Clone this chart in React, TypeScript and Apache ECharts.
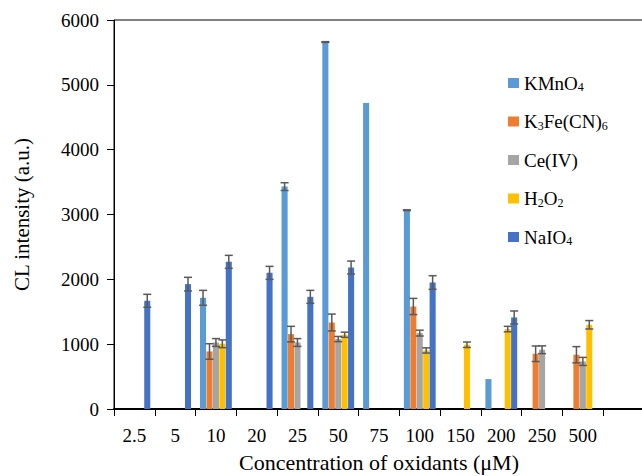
import React, { useEffect, useRef } from "react";
import * as echarts from "echarts";

const categories = ["2.5", "5", "10", "20", "25", "50", "75", "100", "150", "200", "250", "500", ""];
const seriesNames = ["KMnO4", "K3Fe(CN)6", "Ce(IV)", "H2O2", "NaIO4"];
const legendLabels = ["KMnO{s|4}", "K{s|3}Fe(CN){s|6}", "Ce(IV)", "H{s|2}O{s|2}", "NaIO{s|4}"];
const colors = ["#5B9BD5", "#ED7D31", "#A5A5A5", "#FFC000", "#4472C4"];

const kmno4 = [null, null, 1715, null, 3430, 5660, 4720, 3066, null, 462, null, null, null];
const k3fe = [null, null, 887, null, 1155, 1334, null, 1581, null, null, 852, 837, null];
const ce = [null, null, 1026, null, 1026, 1079, null, 1171, null, null, 914, 734, null];
const h2o2 = [null, null, 1006, null, null, 1145, null, 903, 991, 1233, null, 1299, null];
const naio4 = [1669, 1926, 2270, 2100, 1730, 2182, null, 1951, null, 1412, null, null, null];

const kmno4Err = [null, null, 115, null, 60, 6, null, 6, null, null, null, null, null];
const k3feErr = [null, null, 120, null, 120, 130, null, 125, null, null, 120, 125, null];
const ceErr = [null, null, 60, null, 60, 40, null, 45, null, null, 60, 62, null];
const h2o2Err = [null, null, 60, null, null, 40, null, 40, 42, 42, null, 65, null];
const naio4Err = [100, 105, 100, 100, 100, 100, null, 105, null, 100, null, null, null];

const values = [kmno4, k3fe, ce, h2o2, naio4];
const errors = [kmno4Err, k3feErr, ceErr, h2o2Err, naio4Err];

const CAT_GAP = 0.22;
const BAR_GAP = 0.06;
const FONT = "Times New Roman, Liberation Serif, serif";

export default function App() {
  const ref = useRef<HTMLDivElement>(null);
  useEffect(() => {
    if (!ref.current) return;
    const chart = echarts.init(ref.current, null, { renderer: "svg" });

    const errData: any[] = [];
    errors.forEach((arr, s) => {
      arr.forEach((e, i) => {
        const v = values[s][i];
        if (e != null && v != null) errData.push([i, v, e, s]);
      });
    });

    const barSeries = values.map((arr, s) => ({
      type: "bar",
      name: seriesNames[s],
      data: arr,
      itemStyle: { color: colors[s] },
      barGap: `${BAR_GAP * 100}%`,
      barCategoryGap: `${CAT_GAP * 100}%`,
    }));

    const n = 5;
    const errSeries = {
      type: "custom",
      name: "err",
      data: errData,
      z: 10,
      silent: true,
      renderItem: (params: any, api: any) => {
        const cat = api.value(0);
        const val = api.value(1);
        const err = api.value(2);
        const s = api.value(3);
        const band = api.size([1, 0])[0];
        const usable = band * (1 - CAT_GAP);
        const w = usable / (n + (n - 1) * BAR_GAP);
        const step = w * (1 + BAR_GAP);
        const c = api.coord([cat, val]);
        const x = c[0] + (s - (n - 1) / 2) * step;
        const yt = api.coord([cat, val + err])[1];
        const yb = api.coord([cat, val - err])[1];
        const hw = 4;
        const st = { stroke: "#595959", lineWidth: 1.5 };
        return {
          type: "group",
          children: [
            { type: "line", shape: { x1: x, y1: yt, x2: x, y2: yb }, style: st },
            { type: "line", shape: { x1: x - hw, y1: yt, x2: x + hw, y2: yt }, style: st },
            { type: "line", shape: { x1: x - hw, y1: yb, x2: x + hw, y2: yb }, style: st },
          ],
        };
      },
    };

    chart.setOption({
      animation: false,
      textStyle: { fontFamily: FONT },
      grid: {
        left: 114,
        top: 20,
        width: 530,
        height: 389,
        outerBoundsMode: "none",
        containLabel: false,
        show: true,
        borderColor: "#000",
        borderWidth: 1,
        backgroundColor: "transparent",
      },
      legend: {
        data: seriesNames,
        orient: "vertical",
        left: 503,
        top: 68,
        icon: "rect",
        itemWidth: 11,
        itemHeight: 10,
        itemGap: 18.5,
        formatter: (name: string) => legendLabels[seriesNames.indexOf(name)],
        textStyle: {
          fontFamily: FONT,
          fontSize: 19,
          color: "#000",
          lineHeight: 20,
          rich: {
            s: { fontFamily: FONT, fontSize: 12, lineHeight: 12, verticalAlign: "bottom", color: "#000" },
          },
        },
      },
      xAxis: {
        type: "category",
        data: categories,
        name: "Concentration of oxidants (μM)",
        nameLocation: "middle",
        nameGap: 42,
        nameTextStyle: { fontFamily: FONT, fontSize: 22, color: "#000" },
        axisLine: { show: true, lineStyle: { color: "#000", width: 2 } },
        axisTick: { show: true, length: 7, lineStyle: { color: "#000", width: 1 } },
        axisLabel: { fontFamily: FONT, fontSize: 19, color: "#000", margin: 17, interval: 0 },
        splitLine: { show: false },
      },
      yAxis: {
        type: "value",
        min: 0,
        max: 6000,
        interval: 1000,
        name: "CL intensity (a.u.)",
        nameLocation: "middle",
        nameGap: 82,
        nameTextStyle: { fontFamily: FONT, fontSize: 21, color: "#000" },
        axisLine: { show: true, lineStyle: { color: "#000", width: 1 } },
        axisTick: { show: true, length: 7, lineStyle: { color: "#000", width: 1 } },
        axisLabel: {
          fontFamily: FONT,
          fontSize: 19,
          color: "#000",
          margin: 15,
          formatter: (v: number) => String(v),
        },
        splitLine: { show: false },
      },
      series: [...barSeries, errSeries],
    });
    return () => chart.dispose();
  }, []);

  return <div ref={ref} style={{ width: 642, height: 476, position: "absolute", left: 0, top: 0 }} />;
}
